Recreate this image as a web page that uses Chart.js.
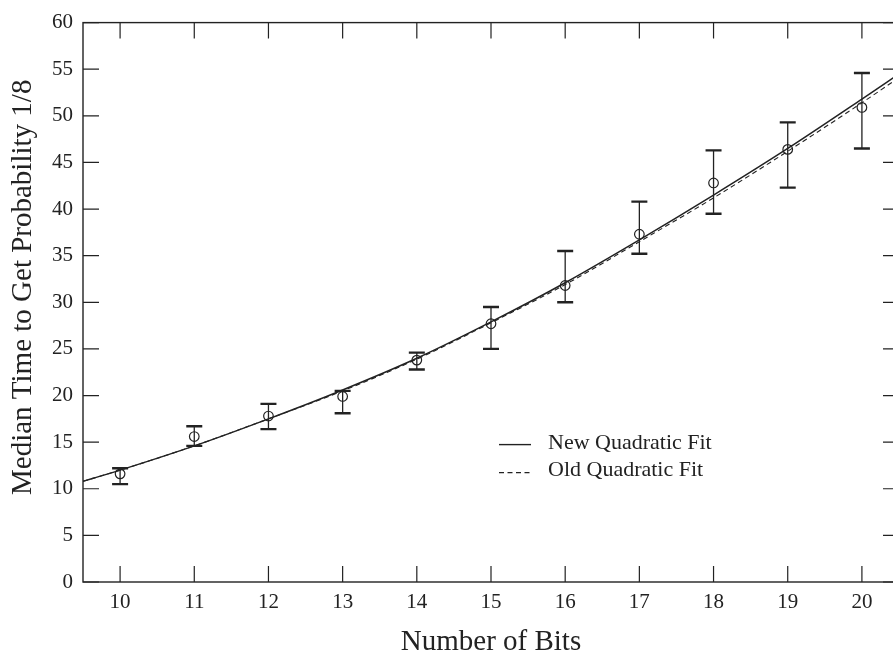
<!DOCTYPE html>
<html lang="en">
<head>
  <meta charset="UTF-8" />
  <title>Median Time vs Number of Bits</title>
  <script src="https://cdn.jsdelivr.net/npm/chart.js@4.4.0/dist/chart.umd.min.js"></script>
  <style>
    html, body { margin: 0; padding: 0; overflow: hidden; background: #fff; }
    #wrap { width: 910px; height: 655px; }
  </style>
</head>
<body>
  <div id="wrap"><canvas id="bitsChart" width="910" height="655"></canvas></div>

  <script>
    // measured medians with error bars
    const bits = [10, 11, 12, 13, 14, 15, 16, 17, 18, 19, 20];
    const medianTime = [11.6, 15.6, 17.8, 19.9, 23.8, 27.7, 31.8, 37.3, 42.8, 46.4, 50.9];
    const errLow = [10.5, 14.6, 16.4, 18.1, 22.8, 25.0, 30.0, 35.2, 39.5, 42.3, 46.5];
    const errHigh = [12.2, 16.7, 19.1, 20.5, 24.6, 29.5, 35.5, 40.8, 46.3, 49.3, 54.6];

    // fit curves
    const fitBits = [9.5, 10, 11, 12, 13, 14, 15, 16, 17, 18, 19, 20, 20.5];
    const newFit = [10.8, 12.0, 14.6, 17.5, 20.6, 24.0, 27.9, 32.1, 36.7, 41.5, 46.5, 51.8, 54.5];
    const oldFit = [10.8, 12.0, 14.6, 17.5, 20.5, 23.9, 27.8, 31.9, 36.5, 41.2, 46.2, 51.4, 54.1];

    const xTicks = [10, 11, 12, 13, 14, 15, 16, 17, 18, 19, 20];
    const yTicks = [0, 5, 10, 15, 20, 25, 30, 35, 40, 45, 50, 55, 60];
    const legendLabels = ['New Quadratic Fit', 'Old Quadratic Fit'];

    const serif = '"Liberation Serif", "DejaVu Serif", serif';
    const ink = '#222';

    const toPoints = (xs, ys) => xs.map((x, i) => ({ x: x, y: ys[i] }));

    // error bars, inward ticks, frame, legend, y title
    const decorations = {
      id: 'decorations',
      afterDatasetsDraw(chart) {
        const { ctx, chartArea: a, scales: { x, y } } = chart;
        ctx.save();
        ctx.strokeStyle = ink;
        bits.forEach((b, i) => {
          const px = x.getPixelForValue(b);
          const lo = y.getPixelForValue(errLow[i]);
          const hi = y.getPixelForValue(errHigh[i]);
          ctx.lineWidth = 1.3;
          ctx.beginPath();
          ctx.moveTo(px, lo);
          ctx.lineTo(px, hi);
          ctx.stroke();
          ctx.lineWidth = 2.4;
          ctx.beginPath();
          ctx.moveTo(px - 8, lo); ctx.lineTo(px + 8, lo);
          ctx.moveTo(px - 8, hi); ctx.lineTo(px + 8, hi);
          ctx.stroke();
        });
        ctx.restore();
      },
      afterDraw(chart) {
        const { ctx, chartArea: a, scales: { x, y } } = chart;
        const tl = 16;
        ctx.save();
        ctx.strokeStyle = ink;
        ctx.lineWidth = 1.4;
        ctx.strokeRect(a.left, a.top, a.right - a.left, a.bottom - a.top);

        ctx.lineWidth = 1.2;
        ctx.beginPath();
        xTicks.forEach(v => {
          const px = x.getPixelForValue(v);
          ctx.moveTo(px, a.bottom); ctx.lineTo(px, a.bottom - tl);
          ctx.moveTo(px, a.top); ctx.lineTo(px, a.top + tl);
        });
        yTicks.forEach(v => {
          const py = y.getPixelForValue(v);
          ctx.moveTo(a.left, py); ctx.lineTo(a.left + tl, py);
          ctx.moveTo(a.right, py); ctx.lineTo(a.right - tl, py);
        });
        ctx.stroke();

        // legend
        const lx = a.left + 416, ly = a.top + 422;
        ctx.lineWidth = 1.4;
        ctx.beginPath();
        ctx.moveTo(lx, ly); ctx.lineTo(lx + 32, ly);
        ctx.stroke();
        ctx.lineWidth = 1.1;
        ctx.setLineDash([5, 3.5]);
        ctx.beginPath();
        ctx.moveTo(lx, ly + 28); ctx.lineTo(lx + 32, ly + 28);
        ctx.stroke();
        ctx.setLineDash([]);
        ctx.fillStyle = ink;
        ctx.font = '22px ' + serif;
        ctx.textBaseline = 'middle';
        ctx.fillText(legendLabels[0], lx + 49, ly - 1);
        ctx.fillText(legendLabels[1], lx + 49, ly + 26);

        // y axis title
        ctx.font = '29px ' + serif;
        ctx.textAlign = 'center';
        ctx.translate(23, (a.top + a.bottom) / 2 - 15);
        ctx.rotate(-Math.PI / 2);
        ctx.fillText('Median Time to Get Probability 1/8', 0, 0);
        ctx.restore();
      }
    };

    const bitsChart = new Chart(document.getElementById('bitsChart'), {
      type: 'scatter',
      data: {
        datasets: [
          {
            label: 'Median',
            data: toPoints(bits, medianTime),
            pointStyle: 'circle',
            pointRadius: 4.8,
            pointBorderWidth: 1.2,
            borderColor: ink,
            backgroundColor: 'rgba(0,0,0,0)'
          },
          {
            label: legendLabels[0],
            data: toPoints(fitBits, newFit),
            showLine: true,
            cubicInterpolationMode: 'monotone',
            borderColor: ink,
            borderWidth: 1.5,
            pointRadius: 0
          },
          {
            label: legendLabels[1],
            data: toPoints(fitBits, oldFit),
            showLine: true,
            cubicInterpolationMode: 'monotone',
            borderColor: ink,
            borderWidth: 1.1,
            borderDash: [5, 3.5],
            pointRadius: 0
          }
        ]
      },
      options: {
        responsive: false,
        animation: false,
        layout: { padding: { top: 12, right: 11, left: 0, bottom: 0 } },
        plugins: {
          legend: { display: false },
          tooltip: { enabled: false }
        },
        scales: {
          x: {
            type: 'linear',
            min: 9.5,
            max: 20.5,
            afterBuildTicks: s => { s.ticks = xTicks.map(v => ({ value: v })); },
            afterFit: s => { s.height = 73; },
            grid: { display: false, drawTicks: false },
            border: { display: false },
            ticks: { color: ink, padding: 8, font: { family: serif, size: 21 } },
            title: {
              display: true,
              text: 'Number of Bits',
              color: ink,
              padding: 0,
              font: { family: serif, size: 29, lineHeight: 0.9 }
            }
          },
          y: {
            min: 0,
            max: 60,
            afterBuildTicks: s => { s.ticks = yTicks.map(v => ({ value: v })); },
            afterFit: s => { s.width = 83; },
            grid: { display: false, drawTicks: false },
            border: { display: false },
            ticks: { color: ink, padding: 10, font: { family: serif, size: 21 } }
          }
        }
      },
      plugins: [decorations]
    });
  </script>
</body>
</html>
